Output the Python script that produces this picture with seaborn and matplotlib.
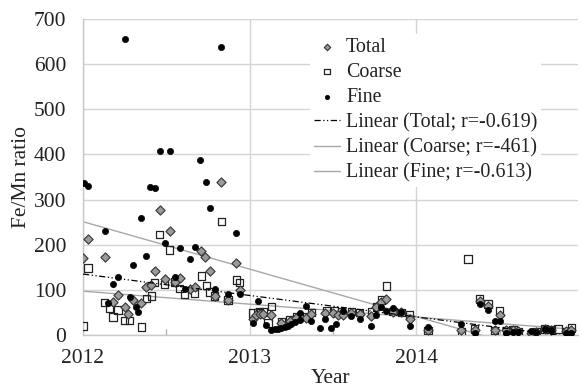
import numpy as np
import pandas as pd
import matplotlib
matplotlib.use("Agg")
import matplotlib.pyplot as plt
import seaborn as sns
from matplotlib.ticker import MultipleLocator

# ---- data (decimal year, Fe/Mn ratio) ----
total_t = [2012.00, 2012.03, 2012.13, 2012.18, 2012.21, 2012.25, 2012.27, 2012.30, 2012.35, 2012.38,
           2012.41, 2012.43, 2012.46, 2012.49, 2012.52, 2012.55, 2012.58, 2012.64, 2012.67, 2012.71,
           2012.73, 2012.76, 2012.79, 2012.83, 2012.87, 2012.92, 2012.94, 2013.02, 2013.04, 2013.06,
           2013.08, 2013.13, 2013.19, 2013.24, 2013.28, 2013.34, 2013.37, 2013.45, 2013.50, 2013.53,
           2013.56, 2013.61, 2013.66, 2013.73, 2013.76, 2013.79, 2013.82, 2013.86, 2013.91, 2013.96,
           2014.07, 2014.27, 2014.35, 2014.38, 2014.43, 2014.47, 2014.50, 2014.54, 2014.58, 2014.61,
           2014.69, 2014.72, 2014.77, 2014.81, 2014.90, 2014.93]
total_v = [170, 213, 172, 72, 89, 63, 46, 77, 70, 106,
           110, 142, 278, 123, 230, 118, 127, 102, 107, 185,
           173, 141, 87, 340, 78, 160, 100, 36, 44, 47,
           47, 44, 26, 30, 38, 37, 46, 49, 48, 45,
           45, 48, 47, 41, 61, 74, 79, 52, 50, 35,
           12, 12, 10, 75, 65, 10, 44, 10, 10, 8,
           5, 6, 13, 12, 8, 10]

coarse_t = [2012.00, 2012.03, 2012.13, 2012.16, 2012.18, 2012.21, 2012.25, 2012.28, 2012.35, 2012.38,
            2012.41, 2012.43, 2012.46, 2012.49, 2012.52, 2012.55, 2012.58, 2012.61, 2012.67, 2012.71,
            2012.74, 2012.76, 2012.79, 2012.83, 2012.87, 2012.92, 2012.94, 2013.02, 2013.05, 2013.06,
            2013.08, 2013.11, 2013.13, 2013.19, 2013.24, 2013.28, 2013.34, 2013.37, 2013.46, 2013.51,
            2013.55, 2013.61, 2013.66, 2013.73, 2013.76, 2013.79, 2013.82, 2013.86, 2013.91, 2013.96,
            2014.07, 2014.27, 2014.31, 2014.35, 2014.38, 2014.43, 2014.47, 2014.50, 2014.54, 2014.58,
            2014.61, 2014.69, 2014.72, 2014.77, 2014.81, 2014.85, 2014.90, 2014.93]
coarse_v = [20, 148, 72, 59, 40, 55, 32, 32, 18, 81,
            86, 116, 223, 112, 188, 118, 103, 91, 92, 131,
            110, 95, 86, 251, 78, 122, 116, 49, 49, 51,
            51, 27, 63, 29, 33, 40, 41, 50, 54, 54,
            52, 52, 50, 52, 63, 78, 109, 52, 50, 44,
            10, 6, 168, 13, 80, 68, 10, 54, 10, 11,
            8, 2, 6, 13, 12, 13, 6, 15]

fine_t = [2012.006, 2012.03, 2012.13, 2012.15, 2012.18, 2012.21, 2012.25, 2012.28, 2012.30, 2012.32,
          2012.33, 2012.35, 2012.38, 2012.40, 2012.43, 2012.46, 2012.49, 2012.52, 2012.55, 2012.58,
          2012.61, 2012.64, 2012.67, 2012.70, 2012.74, 2012.76, 2012.79, 2012.83, 2012.87, 2012.92,
          2012.94, 2013.02, 2013.05, 2013.10, 2013.13, 2013.15, 2013.17, 2013.19, 2013.21, 2013.23,
          2013.25, 2013.27, 2013.30, 2013.30, 2013.34, 2013.37, 2013.42, 2013.45, 2013.49, 2013.52,
          2013.56, 2013.61, 2013.66, 2013.73, 2013.76, 2013.79, 2013.82, 2013.86, 2013.91, 2013.96,
          2014.07, 2014.27, 2014.35, 2014.38, 2014.43, 2014.47, 2014.50, 2014.54, 2014.58, 2014.61,
          2014.69, 2014.72, 2014.77, 2014.81, 2014.90, 2014.93]
fine_v = [336, 330, 230, 70, 113, 129, 656, 85, 154, 63,
          52, 260, 175, 328, 325, 407, 204, 407, 128, 193,
          102, 169, 195, 388, 338, 282, 102, 638, 90, 226,
          90, 26, 76, 22, 12, 14, 13, 15, 17, 20,
          24, 28, 33, 48, 64, 30, 15, 36, 15, 24,
          53, 41, 35, 20, 44, 61, 53, 59, 52, 20,
          17, 24, 4, 68, 55, 32, 32, 4, 6, 6,
          8, 6, 13, 10, 4, 4]

# linear trend lines (values at the ends of the data range)
trend_t = [2012.0, 2014.93]
trend_total = [135, -4]
trend_coarse = [97, 13]
trend_fine = [251, -57]

x_ticks = [2012, 2013, 2014]
y_ticks = [0, 100, 200, 300, 400, 500, 600, 700]

# ---- plot ----
sns.set_theme(style="white")
plt.rcParams['font.family'] = ['Liberation Serif', 'DejaVu Serif']

fig = plt.figure(figsize=(5.82, 3.92), dpi=100)
ax = fig.add_axes([83/582, 1 - 335/392, (578 - 83)/582, (335 - 19)/392])

sns.scatterplot(x=total_t, y=total_v, ax=ax, marker='D', s=22, color='#9a9a9a',
                edgecolor='#333333', linewidth=0.8, label='Total', zorder=4)
sns.scatterplot(x=coarse_t, y=coarse_v, ax=ax, marker='s', s=30, facecolor='none',
                edgecolor='#222222', linewidth=0.9, label='Coarse', zorder=3)
sns.scatterplot(x=fine_t, y=fine_v, ax=ax, marker='o', s=20, color='black',
                edgecolor='black', linewidth=0.5, label='Fine', zorder=5)

sns.lineplot(x=trend_t, y=trend_total, ax=ax, color='black', linewidth=0.9,
             linestyle=(0, (5, 2, 1, 2, 1, 2)), label='Linear (Total; r=-0.619)', zorder=6)
sns.lineplot(x=trend_t, y=trend_coarse, ax=ax, color='#a8a8a8', linewidth=1.0,
             label='Linear (Coarse; r=-461)', zorder=2)
sns.lineplot(x=trend_t, y=trend_fine, ax=ax, color='#a8a8a8', linewidth=1.0,
             label='Linear (Fine; r=-0.613)', zorder=2)

ax.set_xlim(2012, 2014.97)
ax.set_ylim(0, 700)
ax.set_xticks(x_ticks)
ax.set_xticklabels([str(t) for t in x_ticks])
ax.set_yticks(y_ticks)
ax.xaxis.set_minor_locator(MultipleLocator(0.5))
ax.grid(True, which='major', color='#d4d4d4', linewidth=1.0)
ax.set_axisbelow(True)
for side in ['top', 'right']:
    ax.spines[side].set_visible(False)
for side in ['left', 'bottom']:
    ax.spines[side].set_color('#c8c8c8')
    ax.spines[side].set_linewidth(1.0)
ax.tick_params(axis='y', which='major', length=0, labelsize=15.5, colors='#222222', pad=12)
ax.tick_params(axis='x', which='major', length=0, labelsize=15.5, colors='#222222', pad=10)
ax.tick_params(axis='x', which='minor', direction='in', length=4, color='#b0b0b0', bottom=True)
ax.set_xlabel('Year', fontsize=15.5, color='#222222', labelpad=1)
ax.set_ylabel('Fe/Mn ratio', fontsize=15.5, color='#222222', labelpad=2)

leg = ax.legend(loc='upper left', bbox_to_anchor=(310/582, 1 - 34/392),
                bbox_transform=fig.transFigure, borderaxespad=0, borderpad=0.2,
                frameon=True, facecolor='white', edgecolor='none', framealpha=1,
                fontsize=14.4, handlelength=1.3, handletextpad=0.3, labelspacing=0.3,
                markerscale=0.7)
leg.set_zorder(10)
for txt in leg.get_texts():
    txt.set_color('#222222')

fig.savefig('out.png', dpi=100)
